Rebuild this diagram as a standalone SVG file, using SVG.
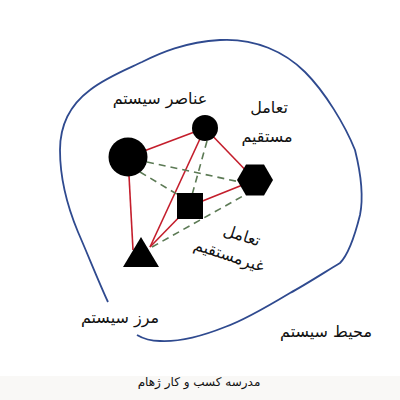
<svg xmlns="http://www.w3.org/2000/svg" width="400" height="400" viewBox="0 0 400 400">
<style>
.t{font-family:"DejaVu Sans",sans-serif;fill:#111;text-anchor:middle}
.red{stroke:#c41e2c;stroke-width:1.6;fill:none}
.grn{stroke:#5c7a55;stroke-width:1.6;fill:none;stroke-dasharray:7,5}
.shape{fill:#000}
</style>
<rect x="0" y="0" width="400" height="400" fill="#fff"/>
<rect x="0" y="376" width="400" height="24" fill="#f9f8f6"/>
<g id="boundary">
<path d="M108 302 C100 285 88 255 78 232 C68 208 60 180 60 150 C60 125 70 105 90 90 C105 78 125 70 142 62 C160 53 185 42 220 40 C255 38 285 52 305 72 C325 92 345 125 355 150 C360 170 364 195 360 215 C355 235 348 255 340 263 C325 272 305 285 290 293 C270 305 245 320 225 327 C205 335 180 342 160 341 C150 341 142 338 137 335" fill="none" stroke="#2f4a8f" stroke-width="1.8"/>
</g>
<g id="connectors">
<line class="red" x1="128" y1="157" x2="205" y2="128"/>
<line class="red" x1="205" y1="128" x2="255" y2="180"/>
<line class="red" x1="128" y1="157" x2="133" y2="250"/>
<line class="red" x1="205" y1="128" x2="150" y2="247"/>
<line class="red" x1="190" y1="206" x2="255" y2="180"/>
<line class="red" x1="190" y1="206" x2="150" y2="247"/>
<line class="grn" x1="147" y1="162" x2="240" y2="182"/>
<line class="grn" x1="140" y1="172" x2="180" y2="196"/>
<line class="grn" x1="207" y1="141" x2="192" y2="195"/>
<line class="grn" x1="152" y1="247" x2="243" y2="196"/>
</g>
<g id="node-big-circle"><circle class="shape" cx="128" cy="157" r="19.5"/></g>
<g id="node-small-circle"><circle class="shape" cx="205" cy="128" r="13"/></g>
<g id="node-hexagon"><polygon class="shape" points="237,180 246,164.5 264,164.5 273,180 264,195.5 246,195.5"/></g>
<g id="node-square"><rect class="shape" x="177" y="193" width="26" height="26"/></g>
<g id="node-triangle"><polygon class="shape" points="141,237 123,267 159,267"/></g>
<g id="labels">
<text class="t" x="160" y="104" font-size="16">عناصر سیستم</text>
<text class="t" x="269" y="113" font-size="16">تعامل</text>
<text class="t" x="267" y="142" font-size="16">مستقیم</text>
<g transform="translate(234,247) rotate(18)">
<text class="t" x="4" y="-8" font-size="16">تعامل</text>
<text class="t" x="-2" y="15" font-size="16">غیرمستقیم</text>
</g>
<text class="t" x="120" y="323" font-size="16">مرز سیستم</text>
<text class="t" x="326" y="337" font-size="16">محیط سیستم</text>
<text class="t" x="199" y="386" font-size="12">مدرسه کسب و کار ژهام</text>
</g>
</svg>
